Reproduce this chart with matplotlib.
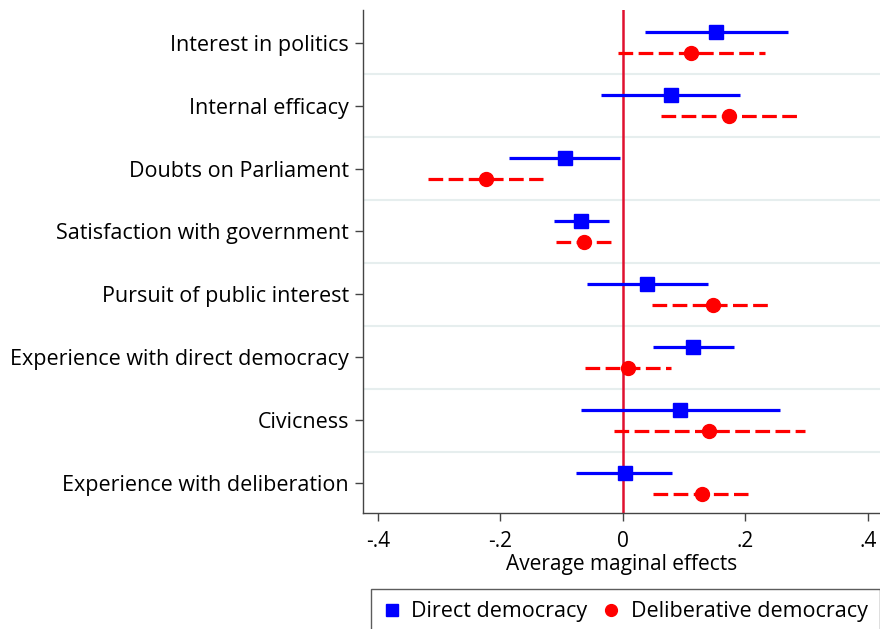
import matplotlib.pyplot as plt
import numpy as np

plt.rcParams['font.family'] = ['Open Sans', 'DejaVu Sans']

# predictors, top to bottom
labels = ["Interest in politics", "Internal efficacy", "Doubts on Parliament",
          "Satisfaction with government", "Pursuit of public interest",
          "Experience with direct democracy", "Civicness",
          "Experience with deliberation"]

# direct democracy: estimate and 95% CI
direct_est = [0.153, 0.078, -0.095, -0.068, 0.040, 0.115, 0.093, 0.003]
direct_lo = [0.036, -0.035, -0.185, -0.112, -0.059, 0.049, -0.068, -0.076]
direct_hi = [0.269, 0.192, -0.004, -0.023, 0.139, 0.182, 0.256, 0.081]

# deliberative democracy: estimate and 95% CI
delib_est = [0.112, 0.173, -0.224, -0.064, 0.147, 0.008, 0.141, 0.129]
delib_lo = [-0.008, 0.062, -0.318, -0.109, 0.048, -0.061, -0.015, 0.049]
delib_hi = [0.232, 0.285, -0.130, -0.019, 0.239, 0.078, 0.298, 0.205]

xticks = [-0.4, -0.2, 0, 0.2, 0.4]
xticklabels = ["-.4", "-.2", "0", ".2", ".4"]

fig = plt.figure(figsize=(8.8, 6.29), dpi=100)
ax = fig.add_axes([0.4125, 0.184, 0.5875, 0.8])

ypos = np.arange(len(labels))
off = 0.167

# light separators between predictors
for y in ypos[:-1] + 0.5:
    ax.axhline(y, color='#e6eeee', lw=1.5, zorder=0)

ax.axvline(0, color='#e0102f', lw=1.8, zorder=1)

b = ax.errorbar(direct_est, ypos - off,
                xerr=[np.array(direct_est) - np.array(direct_lo),
                      np.array(direct_hi) - np.array(direct_est)],
                fmt='s', color='#0000ff', ms=9.5, elinewidth=2.3, capsize=0,
                zorder=3, label="Direct democracy")
r = ax.errorbar(delib_est, ypos + off,
                xerr=[np.array(delib_est) - np.array(delib_lo),
                      np.array(delib_hi) - np.array(delib_est)],
                fmt='o', color='#ff0000', ms=10, elinewidth=2.3, capsize=0,
                zorder=3, label="Deliberative democracy")
r[2][0].set_linestyle((0, (4.6, 1.7)))

ax.set_xlim(-0.424, 0.42)
ax.set_ylim(7.48, -0.52)
ax.set_yticks(ypos)
ax.set_yticklabels(labels, fontsize=15.5)
ax.set_xticks(xticks)
ax.set_xticklabels(xticklabels, fontsize=15)
ax.tick_params(axis='both', direction='out', length=6, width=1, color='#444444')
ax.tick_params(axis='y', pad=4)
ax.tick_params(axis='x', pad=7)
ax.set_xlabel("Average maginal effects", fontsize=15, labelpad=1)

for s in ['top', 'right']:
    ax.spines[s].set_visible(False)
for s in ['left', 'bottom']:
    ax.spines[s].set_color('#444444')
    ax.spines[s].set_linewidth(1)

leg = fig.legend(handles=[b[0], r[0]], labels=["Direct democracy", "Deliberative democracy"],
                 loc='upper left', bbox_to_anchor=(0.4215, 0.064), borderaxespad=0,
                 ncol=2, fontsize=15.5, frameon=True, fancybox=False,
                 edgecolor='#333333', handlelength=0.8, handletextpad=0.5,
                 columnspacing=0.7, borderpad=0.58, markerscale=0.85)
leg.get_frame().set_linewidth(1)

fig.savefig("out.png", dpi=100)
